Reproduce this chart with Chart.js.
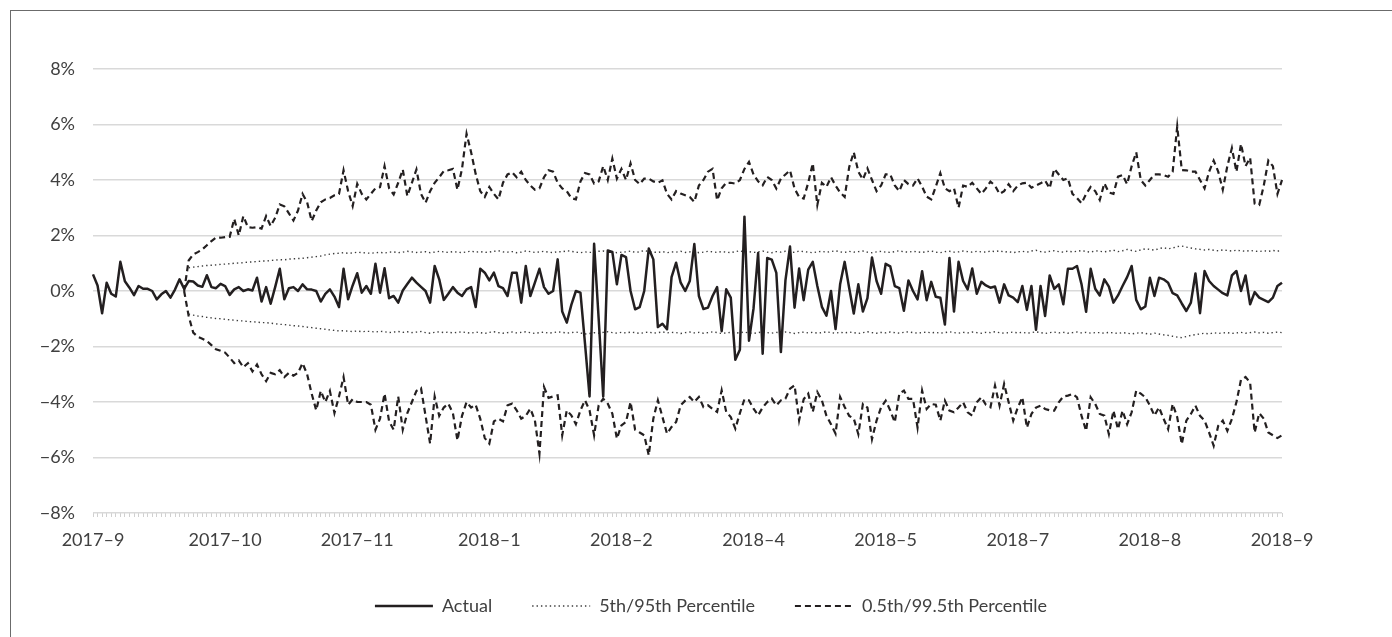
<!DOCTYPE html>
<html>
<head>
<meta charset="utf-8">
<script src="https://cdn.jsdelivr.net/npm/chart.js@4.4.1/dist/chart.umd.min.js"></script>
<style>
  html,body{margin:0;padding:0;background:#fff;}
  body{width:1392px;height:637px;position:relative;overflow:hidden;}
  #frame{position:absolute;left:10px;top:10px;width:1500px;height:700px;border:1px solid #6b6b6b;box-sizing:border-box;}
  #c{position:absolute;left:0;top:0;}
</style>
</head>
<body>
<div id="frame"></div>
<canvas id="c" width="1392" height="637"></canvas>
<script>
// ---- data (values in %) ----
const tickLabels = ['2017\u20139','2017\u201310','2017\u201311','2018\u20131','2018\u20132','2018\u20134','2018\u20135','2018\u20137','2018\u20138','2018\u20139'];
const labelEvery = 29;

const actual = [
 0.6,0.2,-0.8,0.3,-0.1,-0.2,1.05,0.35,0.12,-0.15,
 0.18,0.08,0.08,0.0,-0.3,-0.12,0.0,-0.24,0.05,0.42,
 0.08,0.36,0.34,0.2,0.15,0.57,0.14,0.1,0.26,0.18,
 -0.14,0.06,0.14,0.0,0.06,0.02,0.48,-0.38,0.14,-0.46,
 0.15,0.8,-0.3,0.1,0.14,0.0,0.24,0.06,0.05,0.0,
 -0.38,-0.1,0.06,-0.2,-0.58,0.8,-0.3,0.2,0.64,-0.06,
 0.18,-0.1,0.98,-0.06,0.82,-0.26,-0.18,-0.42,0.02,0.25,
 0.48,0.3,0.15,0.0,-0.42,0.9,0.42,-0.32,-0.1,0.14,
 -0.06,-0.18,0.06,0.14,-0.58,0.8,0.66,0.38,0.66,0.18,
 0.1,-0.18,0.66,0.66,-0.42,0.9,-0.18,0.3,0.8,0.14,
 -0.1,0.0,1.14,-0.74,-1.14,-0.5,0.0,-0.06,-1.9,-3.8,
 1.7,-1.0,-3.8,1.46,1.41,0.24,1.3,1.22,0.0,-0.66,
 -0.58,0.0,1.53,1.14,-1.3,-1.18,-1.38,0.5,1.02,0.3,
 0.0,0.36,1.69,-0.18,-0.65,-0.6,-0.18,0.14,-1.45,0.06,
 -0.24,-2.48,-2.12,2.68,-1.79,-0.62,1.37,-2.26,1.19,1.13,
 0.65,-2.2,0.38,1.6,-0.6,0.81,-0.33,0.77,1.05,0.18,
 -0.57,-0.89,0.0,-1.37,0.24,1.05,0.1,-0.81,0.24,-0.74,
 -0.26,1.21,0.36,-0.1,0.98,0.89,0.18,0.1,-0.71,0.38,
 0.0,-0.3,0.71,-0.33,0.33,-0.21,-0.24,-1.21,1.19,-0.74,
 1.05,0.36,0.06,0.81,-0.1,0.33,0.2,0.12,0.16,-0.42,
 0.24,-0.16,-0.24,-0.4,0.18,-0.68,0.18,-1.4,0.18,-0.9,
 0.56,0.08,0.24,-0.48,0.8,0.8,0.9,0.24,-0.75,0.8,
 0.08,-0.16,0.42,0.16,-0.42,-0.16,0.18,0.5,0.9,-0.32,
 -0.66,-0.56,0.48,-0.18,0.48,0.42,0.3,-0.08,-0.16,-0.45,
 -0.72,-0.42,0.63,-0.8,0.72,0.36,0.18,0.05,-0.08,-0.16,
 0.56,0.72,0.0,0.56,-0.48,-0.04,-0.24,-0.32,-0.4,-0.24,0.18,0.3
];

// 5th / 95th percentile bands, starting at index 21
const p5p95Start = 21;
const p95 = [
 0.84,0.86,0.88,0.9,0.92,0.93,0.94,0.96,0.97,0.98,
 1.0,1.01,1.02,1.04,1.05,1.06,1.08,1.08,1.1,1.11,
 1.13,1.12,1.15,1.16,1.17,1.18,1.2,1.22,1.24,1.26,
 1.3,1.33,1.35,1.36,1.38,1.36,1.37,1.4,1.38,1.37,
 1.36,1.38,1.39,1.37,1.4,1.41,1.38,1.4,1.43,1.41,
 1.39,1.4,1.42,1.38,1.4,1.43,1.41,1.39,1.42,1.4,
 1.38,1.41,1.44,1.4,1.42,1.39,1.4,1.43,1.45,1.41,
 1.4,1.42,1.38,1.4,1.44,1.42,1.39,1.41,1.43,1.4,
 1.38,1.42,1.41,1.45,1.43,1.4,1.38,1.41,1.39,1.4,
 1.43,1.44,1.4,1.42,1.38,1.4,1.41,1.44,1.39,1.41,
 1.46,1.42,1.4,1.39,1.42,1.38,1.41,1.4,1.43,1.39,
 1.41,1.44,1.38,1.4,1.43,1.41,1.39,1.42,1.4,1.38,
 1.42,1.45,1.4,1.42,1.39,1.41,1.44,1.4,1.38,1.42,
 1.4,1.43,1.41,1.39,1.44,1.42,1.4,1.38,1.41,1.43,
 1.4,1.42,1.45,1.41,1.39,1.43,1.4,1.42,1.44,1.4,
 1.38,1.41,1.43,1.4,1.39,1.42,1.45,1.41,1.4,1.43,
 1.41,1.39,1.42,1.44,1.4,1.38,1.42,1.43,1.4,1.41,
 1.44,1.42,1.4,1.43,1.41,1.4,1.44,1.42,1.45,1.4,
 1.42,1.38,1.41,1.43,1.4,1.44,1.47,1.42,1.4,1.43,
 1.45,1.42,1.4,1.44,1.41,1.43,1.46,1.42,1.4,1.45,
 1.43,1.41,1.44,1.47,1.42,1.45,1.5,1.46,1.43,1.48,
 1.52,1.5,1.47,1.53,1.56,1.52,1.55,1.6,1.62,1.58,
 1.55,1.52,1.5,1.48,1.5,1.47,1.45,1.48,1.46,1.44,
 1.47,1.45,1.43,1.46,1.44,1.42,1.45,1.43,1.46,1.44,1.45
];
const p5 = [
 -0.84,-0.87,-0.9,-0.92,-0.95,-0.97,-0.99,-1.0,-1.02,-1.04,
 -1.05,-1.07,-1.08,-1.1,-1.11,-1.12,-1.14,-1.14,-1.16,-1.18,
 -1.2,-1.21,-1.23,-1.25,-1.26,-1.28,-1.3,-1.32,-1.34,-1.36,
 -1.38,-1.4,-1.42,-1.44,-1.43,-1.45,-1.46,-1.44,-1.47,-1.45,
 -1.46,-1.48,-1.45,-1.47,-1.5,-1.48,-1.46,-1.49,-1.47,-1.5,
 -1.48,-1.46,-1.5,-1.52,-1.49,-1.47,-1.5,-1.48,-1.51,-1.49,
 -1.47,-1.5,-1.52,-1.48,-1.5,-1.53,-1.49,-1.47,-1.5,-1.52,
 -1.5,-1.48,-1.51,-1.49,-1.47,-1.5,-1.53,-1.5,-1.48,-1.52,
 -1.5,-1.47,-1.49,-1.52,-1.5,-1.48,-1.51,-1.55,-1.53,-1.5,
 -1.52,-1.49,-1.47,-1.5,-1.52,-1.49,-1.51,-1.48,-1.5,-1.53,
 -1.5,-1.48,-1.52,-1.5,-1.47,-1.51,-1.49,-1.5,-1.53,-1.5,
 -1.48,-1.51,-1.49,-1.52,-1.5,-1.47,-1.5,-1.53,-1.51,-1.49,
 -1.52,-1.5,-1.48,-1.51,-1.53,-1.5,-1.47,-1.5,-1.52,-1.49,
 -1.51,-1.48,-1.5,-1.53,-1.5,-1.48,-1.51,-1.49,-1.52,-1.5,
 -1.47,-1.5,-1.52,-1.49,-1.51,-1.48,-1.5,-1.53,-1.5,-1.47,
 -1.5,-1.52,-1.49,-1.51,-1.48,-1.5,-1.52,-1.49,-1.47,-1.5,
 -1.52,-1.5,-1.48,-1.51,-1.49,-1.52,-1.5,-1.47,-1.5,-1.52,
 -1.49,-1.51,-1.48,-1.5,-1.52,-1.49,-1.5,-1.47,-1.5,-1.52,
 -1.5,-1.48,-1.51,-1.49,-1.52,-1.5,-1.47,-1.5,-1.53,-1.5,
 -1.48,-1.51,-1.49,-1.52,-1.5,-1.48,-1.51,-1.49,-1.52,-1.5,
 -1.5,-1.52,-1.49,-1.51,-1.53,-1.5,-1.52,-1.55,-1.52,-1.5,
 -1.53,-1.56,-1.52,-1.55,-1.58,-1.6,-1.63,-1.66,-1.68,-1.64,
 -1.6,-1.57,-1.55,-1.52,-1.55,-1.5,-1.53,-1.51,-1.5,-1.53,
 -1.51,-1.49,-1.52,-1.5,-1.48,-1.51,-1.49,-1.52,-1.5,-1.48,-1.5
];

// 0.5th / 99.5th percentile bands, starting at index 20
const p05p995Start = 20;
const p995 = [
 0,1.1,1.32,1.4,1.5,1.65,1.8,1.92,1.92,1.94,
 1.95,2.6,2.0,2.7,2.3,2.28,2.3,2.25,2.7,2.34,
 2.64,3.12,3.05,2.8,2.54,2.9,3.5,3.2,2.52,2.9,
 3.2,3.3,3.35,3.45,3.5,4.35,3.6,3.06,3.86,3.5,
 3.3,3.5,3.7,3.74,4.5,3.7,3.48,3.9,4.38,3.42,
 3.9,4.38,3.5,3.18,3.6,3.9,4.1,4.32,4.35,4.4,
 3.65,4.4,5.67,5.0,4.22,3.6,3.39,3.75,3.5,3.3,
 3.9,4.2,4.28,4.1,4.3,4.0,3.8,3.65,3.7,4.1,
 4.35,4.3,3.9,3.7,3.6,3.35,3.3,3.95,4.25,4.2,
 3.87,3.95,4.5,4.0,4.77,4.05,4.4,4.0,4.6,4.0,
 3.85,4.05,4.05,3.95,3.9,3.99,3.5,3.3,3.6,3.51,
 3.45,3.39,3.21,3.8,4.0,4.3,4.4,3.27,3.7,3.9,
 3.9,3.87,4.0,4.4,4.65,4.2,3.95,3.81,4.11,4.0,
 3.69,4.05,4.2,4.35,3.69,3.39,3.33,3.9,4.6,3.1,
 3.9,3.75,4.1,3.8,3.55,3.39,4.47,5.0,4.3,4.02,
 4.42,4.0,3.6,3.8,4.2,4.2,3.8,3.6,4.0,3.85,
 3.8,4.06,3.76,3.4,3.3,3.76,4.25,3.7,3.6,3.7,
 3.0,3.8,3.75,3.9,3.7,3.5,3.7,3.94,3.8,3.5,
 3.6,3.85,3.6,3.8,3.88,3.9,3.72,3.8,3.88,3.98,
 3.7,4.4,4.2,4.0,4.06,3.5,3.35,3.16,3.5,3.75,
 3.6,3.28,3.88,3.55,3.5,4.12,4.18,3.85,4.5,5.0,
 4.0,3.8,4.0,4.2,4.2,4.18,4.12,4.3,5.93,4.36,
 4.35,4.3,4.3,4.0,3.7,4.3,4.7,4.3,3.65,4.5,
 5.15,4.3,5.3,4.5,4.8,3.15,3.1,3.8,4.7,4.5,3.5,4.0
];
const p05 = [
 0,-0.9,-1.5,-1.65,-1.72,-1.8,-1.95,-2.1,-2.15,-2.22,
 -2.4,-2.6,-2.5,-2.75,-2.6,-2.9,-2.65,-3.0,-3.25,-2.95,
 -3.0,-2.85,-3.1,-2.95,-3.05,-2.95,-2.6,-3.0,-3.7,-4.3,
 -3.6,-4.0,-3.6,-4.4,-3.8,-3.1,-4.1,-3.9,-4.0,-4.0,
 -4.0,-4.1,-5.0,-4.6,-3.7,-4.7,-5.0,-3.8,-5.0,-4.4,
 -4.0,-3.6,-3.5,-4.5,-5.5,-3.8,-4.5,-4.2,-4.06,-4.4,
 -5.38,-4.5,-4.0,-4.2,-4.1,-4.6,-5.3,-5.5,-4.7,-4.6,
 -4.7,-4.12,-4.06,-4.3,-4.6,-4.5,-4.24,-4.66,-5.86,-3.46,
 -3.85,-3.8,-3.76,-5.2,-4.3,-4.48,-4.8,-4.3,-3.94,-4.3,
 -5.2,-4.12,-3.88,-4.06,-4.42,-5.32,-4.84,-4.72,-4.0,-5.0,
 -5.1,-5.2,-5.92,-4.6,-3.94,-4.54,-5.14,-4.9,-4.72,-4.12,
 -3.95,-3.82,-4.0,-3.82,-4.18,-4.12,-4.25,-4.36,-3.58,-4.36,
 -4.54,-4.96,-4.4,-3.9,-3.94,-4.24,-4.48,-4.2,-4.0,-3.88,
 -4.12,-3.94,-3.88,-3.52,-3.4,-4.66,-3.9,-3.7,-4.36,-3.64,
 -3.94,-4.5,-4.8,-5.14,-3.82,-4.18,-4.5,-4.6,-5.16,-4.07,
 -4.2,-5.34,-4.67,-4.19,-3.95,-4.3,-4.73,-3.7,-3.59,-3.89,
 -3.89,-4.92,-3.59,-4.25,-4.07,-4.1,-4.67,-3.95,-4.31,-4.37,
 -4.2,-4.01,-4.37,-4.49,-4.01,-3.83,-4.1,-4.19,-3.41,-4.13,
 -3.35,-4.01,-4.67,-4.2,-3.83,-4.92,-4.43,-4.2,-4.13,-4.25,
 -4.3,-4.31,-4.01,-3.8,-3.77,-3.71,-3.83,-4.5,-5.04,-3.83,
 -4.07,-4.43,-4.49,-5.16,-4.31,-4.98,-4.31,-4.8,-4.37,-3.59,
 -3.7,-3.83,-4.13,-4.49,-4.19,-4.6,-4.98,-4.07,-4.55,-5.52,
 -4.67,-4.43,-4.13,-4.5,-4.67,-5.1,-5.58,-4.86,-4.67,-5.04,
 -4.61,-4.0,-3.2,-3.1,-3.3,-5.1,-4.4,-4.6,-5.1,-5.2,-5.3,-5.2
];

// ---- build library structures ----
const categories = actual.map((_, i) => (i % labelEvery === 0 ? tickLabels[i / labelEvery] : ''));
const pad = (arr, start) => categories.map((_, i) => (i < start ? null : arr[i - start]));

const ink = '#231f20';
const dotInk = '#3c3c3c';
const FONT = 'Lato';

const legendShift = {
  id: 'legendShift',
  afterLayout(chart) {
    const l = chart.legend;
    if (l) { l.left += 65; l.right += 65; }
  }
};

new Chart(document.getElementById('c'), {
  type: 'line',
  data: {
    labels: categories,
    datasets: [
      { label: 'Actual', data: actual, borderColor: ink, borderWidth: 2.5, pointRadius: 0, pointStyle: 'line', borderJoinStyle: 'round', fill: false },
      { label: '5th/95th Percentile', data: pad(p95, p5p95Start), borderColor: dotInk, borderWidth: 1.4, borderDash: [1.4, 3], pointRadius: 0, pointStyle: 'line', fill: false },
      { label: '5th', legendHide: true, data: pad(p5, p5p95Start), borderColor: dotInk, borderWidth: 1.4, borderDash: [1.4, 3], pointRadius: 0, pointStyle: 'line', fill: false },
      { label: '0.5th/99.5th Percentile', data: pad(p995, p05p995Start), borderColor: ink, borderWidth: 2.2, borderDash: [6, 4], pointRadius: 0, pointStyle: 'line', fill: false },
      { label: '0.5th', legendHide: true, data: pad(p05, p05p995Start), borderColor: ink, borderWidth: 2.2, borderDash: [6, 4], pointRadius: 0, pointStyle: 'line', fill: false }
    ]
  },
  options: {
    responsive: false,
    animation: false,
    events: [],
    layout: { padding: { left: 10, right: 110, top: 69, bottom: 12 } },
    plugins: {
      tooltip: { enabled: false },
      legend: {
        position: 'bottom',
        labels: {
          usePointStyle: true,
          pointStyleWidth: 58,
          padding: 40,
          color: '#404040',
          font: { family: FONT, size: 18 },
          filter: (item, data) => !data.datasets[item.datasetIndex].legendHide,
          generateLabels(chart) {
            const items = Chart.defaults.plugins.legend.labels.generateLabels(chart);
            items.forEach(it => {
              const ds = chart.data.datasets[it.datasetIndex];
              it.lineDash = ds.borderDash || [];
              it.lineWidth = ds.borderWidth;
              it.strokeStyle = ds.borderColor;
              it.fillStyle = ds.borderColor;
              it.pointStyle = 'line';
            });
            return items;
          }
        }
      }
    },
    scales: {
      x: {
        type: 'category',
        grid: { display: true, drawOnChartArea: false, drawTicks: true, tickLength: 4, color: '#d0d0d0', lineWidth: 1 },
        border: { display: false },
        ticks: { autoSkip: false, maxRotation: 0, minRotation: 0, padding: 12, color: '#404040', font: { family: FONT, size: 18 } },
        afterFit(s) { s.height = 44; }
      },
      y: {
        min: -8, max: 8,
        grid: { color: '#d9d9d9', lineWidth: 1.5, drawTicks: false },
        border: { display: false },
        ticks: {
          stepSize: 2, padding: 18, color: '#404040', font: { family: FONT, size: 18 },
          callback: v => (v < 0 ? '\u2212' : '') + Math.abs(v) + '%'
        },
        afterFit(s) { s.width = 83; }
      }
    }
  },
  plugins: [legendShift]
});
</script>
</body>
</html>
